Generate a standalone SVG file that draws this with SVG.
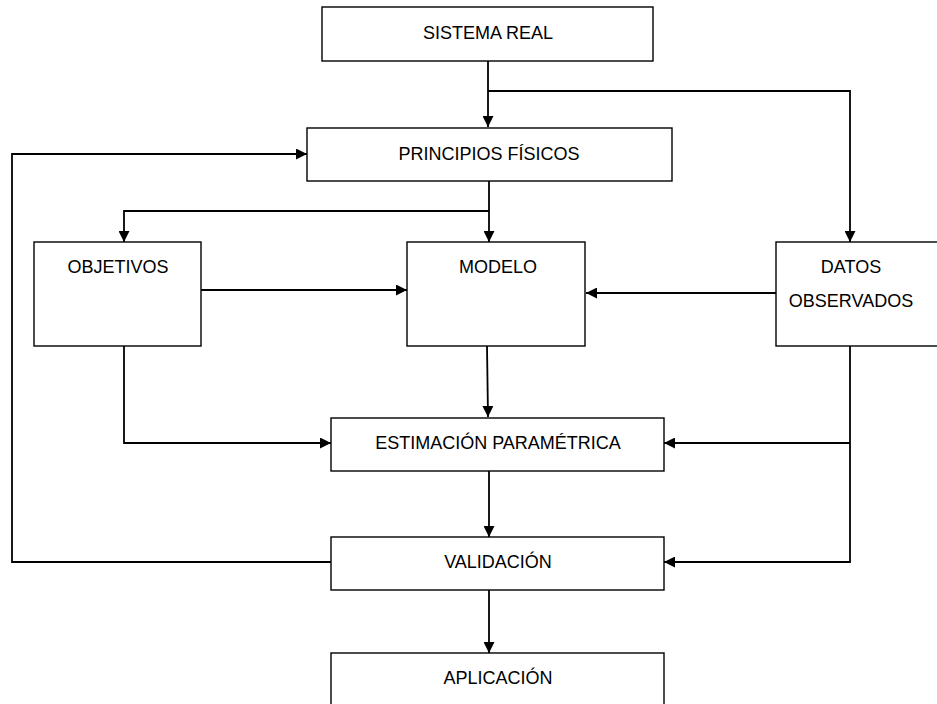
<svg xmlns="http://www.w3.org/2000/svg" width="937" height="704" viewBox="0 0 937 704">
<style>
.box{fill:#fff;stroke:#000;stroke-width:1.4}
.t{font-family:"Liberation Sans",Arial,sans-serif;font-size:18px;fill:#000;text-anchor:middle}
.c{fill:none;stroke:#000;stroke-width:1.8}
</style>
<defs>
<marker id="ah" markerWidth="11" markerHeight="11" refX="11" refY="5.5" orient="auto" markerUnits="userSpaceOnUse">
<path d="M0,0 L11,5.5 L0,11 Z" fill="#000"/>
</marker>
</defs>
<rect width="937" height="704" fill="#fff"/>
<g id="connectors">
<path class="c" d="M488,61 L488,127" marker-end="url(#ah)"/>
<path class="c" d="M488,91 L850,91 L850,242" marker-end="url(#ah)"/>
<path class="c" d="M489,181 L489,242" marker-end="url(#ah)"/>
<path class="c" d="M489,211 L124,211 L124,242" marker-end="url(#ah)"/>
<path class="c" d="M201,290 L407,290" marker-end="url(#ah)"/>
<path class="c" d="M776,293 L586,293" marker-end="url(#ah)"/>
<path class="c" d="M487,346 L488,417" marker-end="url(#ah)"/>
<path class="c" d="M124,346 L124,443 L331,443" marker-end="url(#ah)"/>
<path class="c" d="M850,346 L850,562 L664,562" marker-end="url(#ah)"/>
<path class="c" d="M850,443 L664,443" marker-end="url(#ah)"/>
<path class="c" d="M489,471 L489,537" marker-end="url(#ah)"/>
<path class="c" d="M331,562 L12,562 L12,154 L307,154" marker-end="url(#ah)"/>
<path class="c" d="M489,590 L489,653" marker-end="url(#ah)"/>
</g>
<g id="sistema-real"><rect class="box" x="322" y="7" width="331" height="54"/><text class="t" x="488" y="39">SISTEMA REAL</text></g>
<g id="principios"><rect class="box" x="307" y="128" width="365" height="53"/><text class="t" x="489" y="160">PRINCIPIOS FÍSICOS</text></g>
<g id="objetivos"><rect class="box" x="34" y="242" width="167" height="104"/><text class="t" x="118" y="273">OBJETIVOS</text></g>
<g id="modelo"><rect class="box" x="407" y="242" width="178" height="104"/><text class="t" x="498" y="273">MODELO</text></g>
<g id="datos"><rect class="box" x="776" y="242" width="170" height="104"/><text class="t" x="851" y="273">DATOS</text><text class="t" x="851" y="307">OBSERVADOS</text></g>
<g id="estimacion"><rect class="box" x="331" y="418" width="333" height="53"/><text class="t" x="498" y="449">ESTIMACIÓN PARAMÉTRICA</text></g>
<g id="validacion"><rect class="box" x="331" y="537" width="333" height="53"/><text class="t" x="498" y="568">VALIDACIÓN</text></g>
<g id="aplicacion"><rect class="box" x="331" y="653" width="333" height="70"/><text class="t" x="498" y="684">APLICACIÓN</text></g>
</svg>
